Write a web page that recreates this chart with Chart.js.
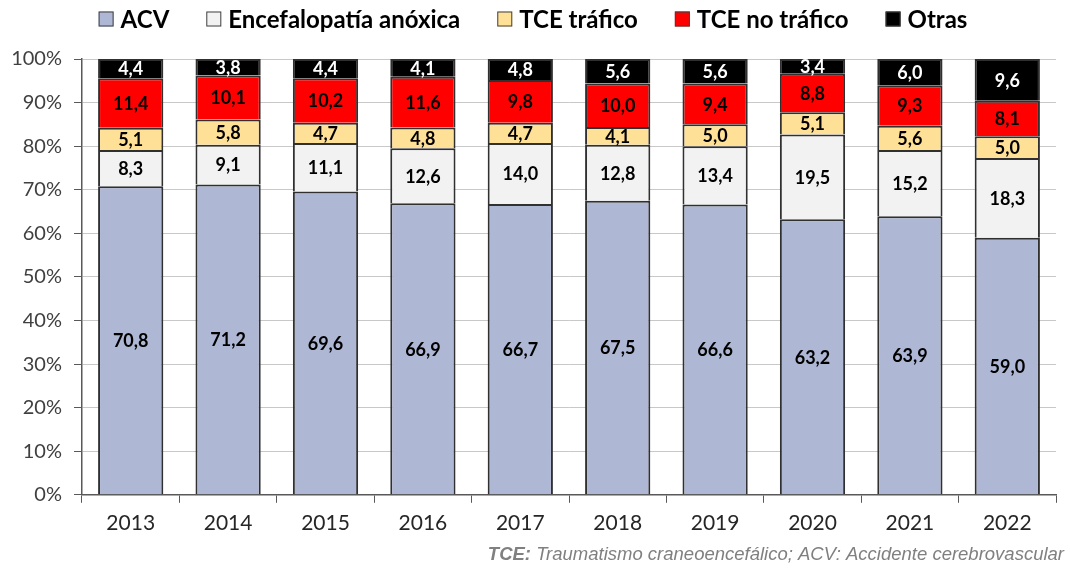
<!DOCTYPE html>
<html>
<head>
<meta charset="utf-8">
<script src="https://cdn.jsdelivr.net/npm/chart.js@4.4.0/dist/chart.umd.min.js"></script>
<style>
  html, body { margin: 0; padding: 0; background: #fff; }
  #wrap { width: 1070px; height: 568px; position: relative; }
</style>
</head>
<body>
<div id="wrap"><canvas id="mycanvas" width="1070" height="568"></canvas></div>
<script>
var years = ["2013", "2014", "2015", "2016", "2017", "2018", "2019", "2020", "2021", "2022"];
var acv = [70.8, 71.2, 69.6, 66.9, 66.7, 67.5, 66.6, 63.2, 63.9, 59.0];
var encefalopatia = [8.3, 9.1, 11.1, 12.6, 14.0, 12.8, 13.4, 19.5, 15.2, 18.3];
var tceTrafico = [5.1, 5.8, 4.7, 4.8, 4.7, 4.1, 5.0, 5.1, 5.6, 5.0];
var tceNoTrafico = [11.4, 10.1, 10.2, 11.6, 9.8, 10.0, 9.4, 8.8, 9.3, 8.1];
var otras = [4.4, 3.8, 4.4, 4.1, 4.8, 5.6, 5.6, 3.4, 6.0, 9.6];
var yTicks = [0, 10, 20, 30, 40, 50, 60, 70, 80, 90, 100];

var FONT = "Lato, 'Open Sans', sans-serif";

// value written in the middle of every segment, comma decimals
var segmentLabels = {
	id: "segmentLabels",
	afterDatasetsDraw: function(chart) {
		var ctx = chart.ctx;
		ctx.save();
		ctx.font = "bold 18px " + FONT;
		ctx.textAlign = "center";
		ctx.textBaseline = "middle";
		chart.data.datasets.forEach(function(ds, i) {
			var meta = chart.getDatasetMeta(i);
			meta.data.forEach(function(bar, j) {
				var p = bar.getProps(["x", "y", "base"], true);
				ctx.fillStyle = ds.labelColor;
				ctx.fillText(ds.data[j].toFixed(1).replace(".", ","), p.x, (p.y + p.base) / 2 + 1);
			});
		});
		ctx.restore();
	}
};

// one-row legend across the top, tighter box/text gap than the stock one
var topLegend = {
	id: "topLegend",
	afterDraw: function(chart) {
		var ctx = chart.ctx;
		var box = 15, gap = 7, between = 37, cy = 19;
		ctx.save();
		ctx.font = "bold 24px " + FONT;
		var items = chart.data.datasets.map(function(ds) {
			return { text: ds.label, fill: ds.backgroundColor, w: box + gap + ctx.measureText(ds.label).width };
		});
		var total = items.reduce(function(s, it) { return s + it.w; }, 0) + between * (items.length - 1);
		var x = 533 - total / 2;
		ctx.textBaseline = "middle";
		ctx.textAlign = "left";
		items.forEach(function(it) {
			ctx.fillStyle = it.fill;
			ctx.fillRect(x, cy - box / 2, box, box);
			ctx.strokeStyle = "#404040";
			ctx.lineWidth = 1;
			ctx.strokeRect(x + 0.5, cy - box / 2 + 0.5, box - 1, box - 1);
			ctx.fillStyle = "#000";
			ctx.fillText(it.text, x + box + gap, cy + 1);
			x += it.w + between;
		});
		ctx.restore();
	}
};

// footnote in the lower right corner
var footnote = {
	id: "footnote",
	afterDraw: function(chart) {
		var ctx = chart.ctx;
		var right = 1064, y = 555;
		var rest = " Traumatismo craneoencefálico; ACV: Accidente cerebrovascular";
		var f = "18.5px 'Liberation Sans', Arial, sans-serif";
		ctx.save();
		ctx.fillStyle = "#808080";
		ctx.textBaseline = "middle";
		ctx.font = "italic " + f;
		var w2 = ctx.measureText(rest).width;
		ctx.font = "italic bold " + f;
		var w1 = ctx.measureText("TCE:").width;
		ctx.textAlign = "left";
		ctx.fillText("TCE:", right - w2 - w1, y);
		ctx.font = "italic " + f;
		ctx.fillText(rest, right - w2, y);
		ctx.restore();
	}
};

function makeSet(label, data, fill, textColor) {
	return {
		label: label,
		data: data,
		backgroundColor: fill,
		borderColor: "#303030",
		borderWidth: 2,
		labelColor: textColor,
		categoryPercentage: 1,
		barPercentage: 0.67
	};
}

var chartdata = {
	labels: years,
	datasets: [
		makeSet("ACV", acv, "#aeb7d4", "#000"),
		makeSet("Encefalopatía anóxica", encefalopatia, "#f2f2f2", "#000"),
		makeSet("TCE tráfico", tceTrafico, "#ffe097", "#000"),
		makeSet("TCE no tráfico", tceNoTrafico, "#ff0000", "#000"),
		makeSet("Otras", otras, "#000000", "#fff")
	]
};

var ctx = document.getElementById("mycanvas");

var StackGraph = new Chart(ctx, {
	type: "bar",
	data: chartdata,
	plugins: [segmentLabels, topLegend, footnote],
	options: {
		responsive: false,
		animation: false,
		devicePixelRatio: 1,
		layout: { padding: { left: 8, right: 14, top: 59, bottom: 24 } },
		plugins: {
			tooltip: { enabled: false },
			legend: { display: false }
		},
		scales: {
			x: {
				stacked: true,
				offset: true,
				grid: {
					drawOnChartArea: false,
					drawTicks: true,
					tickLength: 8,
					tickColor: "#595959",
					offset: true
				},
				border: { display: true, color: "#595959", width: 1.5 },
				ticks: { color: "#262626", padding: 8, maxRotation: 0, font: { family: FONT, size: 21 } }
			},
			y: {
				stacked: true,
				min: 0,
				max: 100,
				afterBuildTicks: function(scale) {
					scale.ticks = yTicks.map(function(v) { return { value: v }; });
				},
				afterFit: function(scale) { scale.width = 74; },
				grid: {
					color: "#c8c8c8",
					borderDash: [2, 2],
					tickLength: 8,
					tickColor: "#595959",
					tickBorderDash: []
				},
				border: { display: true, color: "#595959", width: 1.5 },
				ticks: {
					color: "#404040",
					padding: 12,
					font: { family: FONT, size: 20 },
					callback: function(v) { return v + "%"; }
				}
			}
		}
	}
});
</script>
</body>
</html>
